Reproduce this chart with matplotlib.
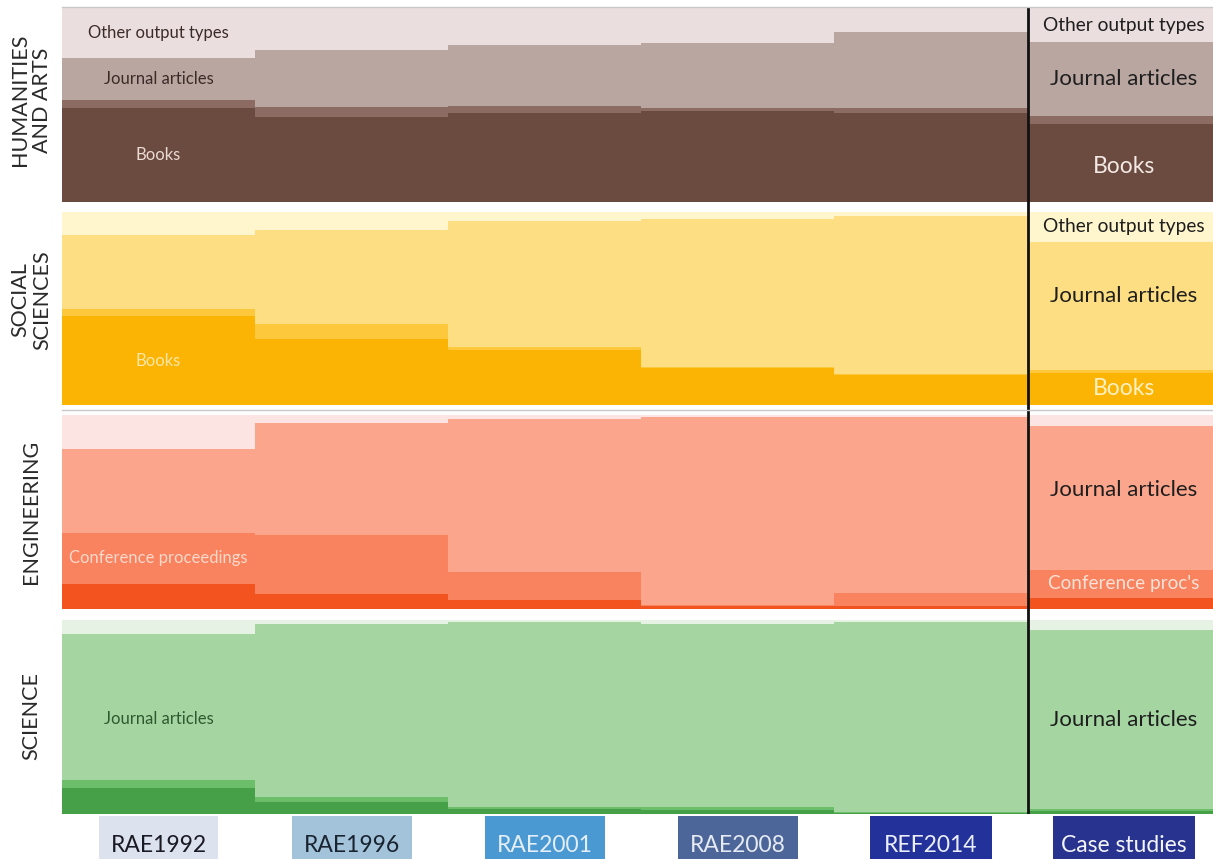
import matplotlib
matplotlib.use("Agg")
import matplotlib.pyplot as plt
from matplotlib.patches import Rectangle

plt.rcParams['font.family'] = ['Lato', 'DejaVu Sans']

# columns
assessments = ['RAE1992', 'RAE1996', 'RAE2001', 'RAE2008', 'REF2014', 'Case studies']

# share of submitted outputs per panel (%), stacked bottom -> top
hum_books = [48.5, 43.8, 45.9, 46.9, 45.9, 40.2]
hum_minor = [4.1, 5.2, 3.6, 1.5, 2.6, 4.1]
hum_journal = [21.6, 29.4, 31.4, 33.5, 39.2, 38.1]
hum_other = [25.8, 21.6, 19.1, 18.1, 12.3, 17.6]

soc_books = [46.1, 34.2, 28.5, 19.2, 15.5, 16.6]
soc_minor = [3.6, 7.8, 1.6, 0.5, 0.5, 1.6]
soc_journal = [38.4, 48.7, 65.2, 76.7, 82.0, 66.3]
soc_other = [11.9, 9.3, 4.7, 3.6, 2.0, 15.5]

eng_minor = [12.9, 7.7, 4.6, 1.5, 1.5, 5.7]
eng_conf = [26.3, 30.4, 14.4, 0.5, 6.7, 14.4]
eng_journal = [43.3, 57.8, 78.9, 97.0, 90.7, 74.2]
eng_other = [17.5, 4.1, 2.1, 1.0, 1.1, 5.7]

sci_minor = [13.4, 6.2, 2.6, 2.1, 0.5, 1.5]
sci_minor2 = [4.1, 2.6, 1.0, 1.5, 0.5, 1.0]
sci_journal = [75.3, 89.1, 95.4, 94.3, 98.0, 92.3]
sci_other = [7.2, 2.1, 1.0, 2.1, 1.0, 5.2]

W, H = 1213, 859
fig = plt.figure(figsize=(W / 100, H / 100), dpi=100)
fig.patch.set_facecolor('white')

X0, X1 = 62, 1213
COLW = 193.1
XMAX = (X1 - X0) / COLW


def px_axes(x0, y0, x1, y1):
    return fig.add_axes([x0 / W, 1 - y1 / H, (x1 - x0) / W, (y1 - y0) / H])


panels = [
    # name, pixel top/bottom, name centre, series, colours
    ('HUMANITIES\nAND ARTS', 8, 202, 100,
     [hum_books, hum_minor, hum_journal, hum_other],
     ['#6B4A40', '#8C6B62', '#B9A6A0', '#EADFDE']),
    ('SOCIAL\nSCIENCES', 212, 405, 300,
     [soc_books, soc_minor, soc_journal, soc_other],
     ['#FBB304', '#FDC83C', '#FDDE82', '#FFF6CE']),
    ('ENGINEERING', 415, 609, 512,
     [eng_minor, eng_conf, eng_journal, eng_other],
     ['#F2531F', '#F9825F', '#FBA68C', '#FBE4E1']),
    ('SCIENCE', 620, 814, 716,
     [sci_minor, sci_minor2, sci_journal, sci_other],
     ['#45A048', '#6CBE6A', '#A5D6A2', '#E6F2E3']),
]

# labels: (panel, series index, column, text, size, colour, y shift)
labels = [
    (0, 3, 0, 'Other output types', 12, '#3B2B28', 0),
    (0, 2, 0, 'Journal articles', 12, '#3B2B28', 0),
    (0, 0, 0, 'Books', 12, '#EADBD3', 0),
    (1, 0, 0, 'Books', 12, '#FDE7A6', 0),
    (2, 1, 0, 'Conference proceedings', 12, '#FCD9CB', 0),
    (3, 2, 0, 'Journal articles', 12, '#2F5A2E', -6),
    (0, 3, 5, 'Other output types', 13.8, '#1E1E1E', 0),
    (0, 2, 5, 'Journal articles', 16, '#1E1E1E', 0),
    (0, 0, 5, 'Books', 16.5, '#F3E9E4', -2),
    (1, 3, 5, 'Other output types', 13.8, '#1E1E1E', 0),
    (1, 2, 5, 'Journal articles', 16, '#1E1E1E', 5),
    (1, 0, 5, 'Books', 16.5, '#FFF1C4', 0),
    (2, 2, 5, 'Journal articles', 16, '#1E1E1E', 4),
    (2, 1, 5, 'Conference proc\'s', 13.6, '#FCE3D8', 0),
    (3, 2, 5, 'Journal articles', 16, '#1E1E1E', 0),
]

axes = []
for name, top, bot, yc, series, colors in panels:
    ax = px_axes(X0, top, X1, bot)
    bottom = [0.0] * len(assessments)
    for vals, c in zip(series, colors):
        ax.bar(range(len(assessments)), vals, bottom=bottom, width=1.0,
               align='edge', color=c, linewidth=0)
        bottom = [b + v for b, v in zip(bottom, vals)]
    ax.set_xlim(0, XMAX)
    ax.set_ylim(0, 100)
    ax.axis('off')
    fig.text(31 / W, 1 - yc / H, name, rotation=90, ha='center',
             va='center', fontsize=15.5, color='#2A2A2A', linespacing=1.15)
    axes.append((ax, series))

for p, s, col, txt, size, color, dy in labels:
    ax, series = axes[p]
    base = sum(series[k][col] for k in range(s))
    y = base + series[s][col] / 2 + dy
    ax.text(col + 0.5, y, txt, ha='center', va='center', fontsize=size,
            color=color)

# thin grey rules
for y in (7, 410):
    fig.add_artist(plt.Line2D([X0 / W, 1], [1 - y / H] * 2, color='#C8C8C8',
                              lw=1, transform=fig.transFigure))

# separator before case studies
over = px_axes(X0, 8, X1, 814)
over.set_xlim(0, XMAX)
over.set_ylim(0, 1)
over.axis('off')
over.axvline(5, color='#111111', lw=2)

# column header boxes
box_colors = ['#DCE3EE', '#A3C3DB', '#4A99D3', '#4D6699', '#22329A', '#27338F']
text_colors = ['#1A1A24', '#1A2430', '#E4EEF8', '#E6EAF3', '#ECEFFA', '#F4F5FB']
box_w = [0.62, 0.62, 0.62, 0.62, 0.63, 0.74]
tax = px_axes(X0, 823, X1, 859)
tax.set_xlim(0, XMAX)
tax.set_ylim(0, 1)
tax.axis('off')
for i, (lab, bc, tc, bw) in enumerate(zip(assessments, box_colors, text_colors, box_w)):
    tax.add_patch(Rectangle((i + 0.5 - bw / 2, 0), bw, 1.2, color=bc,
                            clip_on=False, linewidth=0))
    tax.text(i + 0.5, 0.38, lab, ha='center', va='center', fontsize=16.5,
             color=tc)

fig.savefig('out.png', dpi=100)
